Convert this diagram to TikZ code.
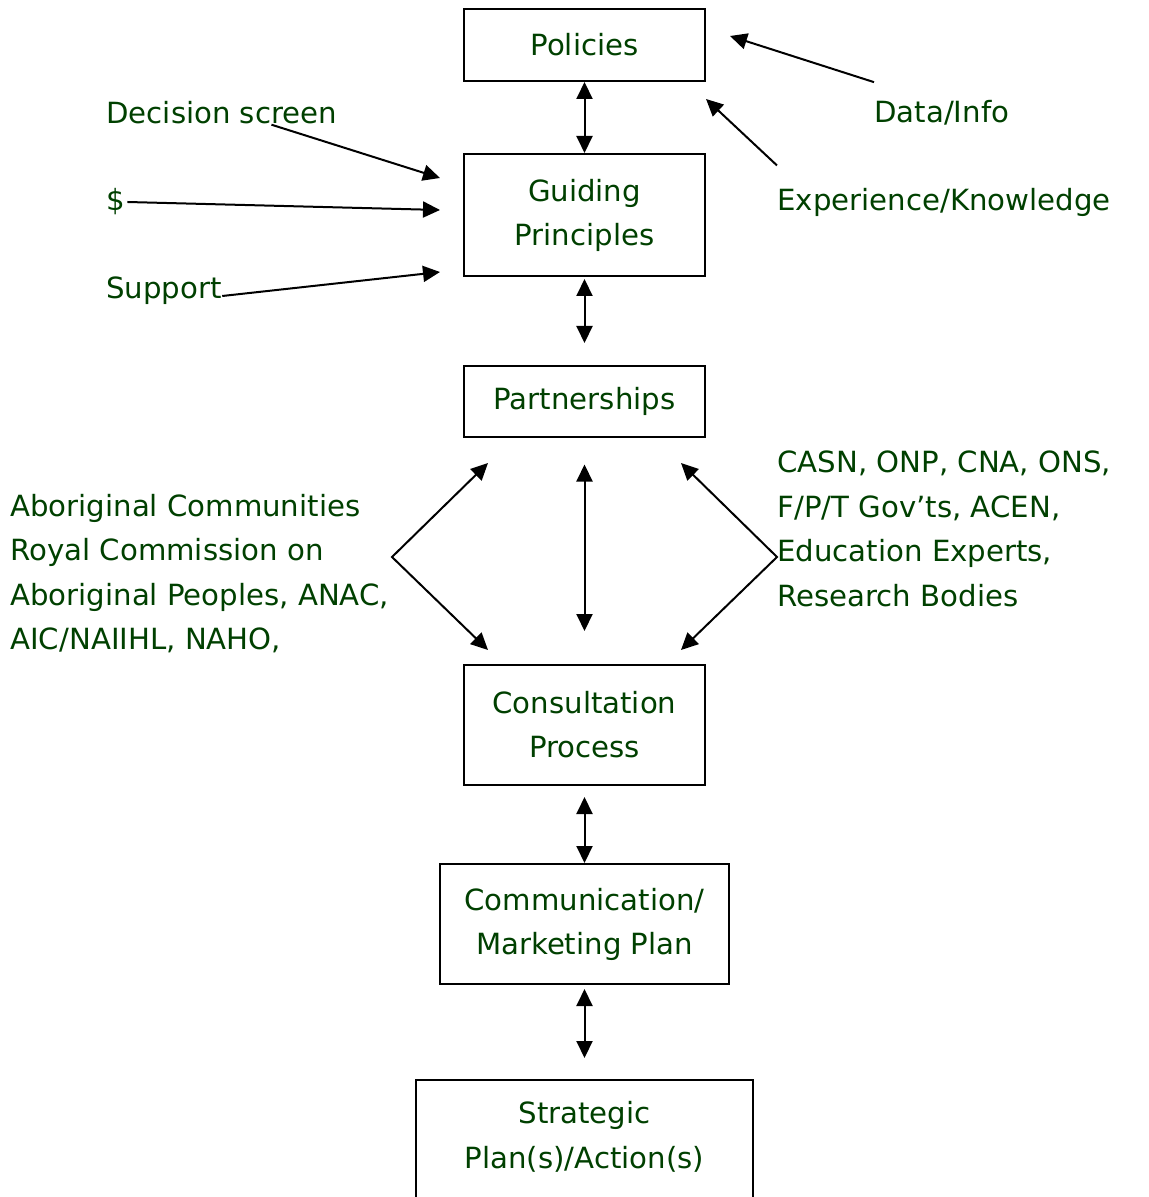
\documentclass[tikz,border=0pt]{standalone}
\usepackage{fontspec}
\setmainfont{DejaVu Sans}
\usetikzlibrary{arrows.meta}
\definecolor{txtgreen}{RGB}{0,64,0}

\begin{document}
\begin{tikzpicture}[x=0.5pt,y=-0.5pt,
		box/.style={draw,line width=1pt,text=txtgreen,align=center,inner sep=0pt,font=\fontsize{14.6}{22}\selectfont},
		lbl/.style={text=txtgreen,align=left,inner sep=0pt,font=\fontsize{14.6}{22.25}\selectfont},
		arr/.style={line width=1pt,-{Triangle[length=8.5pt,width=8pt]}},
		darr/.style={line width=1pt,{Triangle[length=8.5pt,width=8pt]}-{Triangle[length=8.5pt,width=8pt]}}]
					\useasboundingbox (0,0) rectangle (1148,1197);
					% boxes down the middle
					\node (pol) at (584.5,45)[box,minimum width=120.5pt,minimum height=36pt]{Policies};
					\node (gp) at (584.5,215)[box,minimum width=120.5pt,minimum height=61pt]{Guiding\\Principles};
					\node (par) at (584.5,401.5)[box,minimum width=120.5pt,minimum height=35.5pt]{Partnerships};
					\node (con) at (584.5,725)[box,minimum width=120.5pt,minimum height=60pt]{Consultation\\Process};
					\node (com) at (584.5,924)[box,minimum width=144.5pt,minimum height=60pt]{Communication/\\Marketing Plan};
					\node (str) at (584.5,1137)[lbl,align=center]{Strategic\\Plan(s)/Action(s)};
					\draw[line width=1pt] (416,1230) |- (753,1080) -- (753,1230);
					\coordinate (strtop) at (584.5,1080);
					\draw[darr] (pol) -- (gp);
					\draw[darr,shorten <=1pt,shorten >=11pt] (gp) -- (par);
					\draw[darr,shorten <=13.25pt,shorten >=16.5pt] (par) -- (con);
					\draw[darr,shorten <=5.5pt] (con) -- (com);
					\draw[darr,shorten <=2pt,shorten >=11pt] (com) -- (strtop);
					% inputs to the principles
					\node (ds) at (106,113)[lbl,anchor=west]{Decision screen};
					\node (dol) at (106,202)[lbl,anchor=west]{\$};
					\node (sup) at (106,291)[lbl,anchor=west]{Support};
					\node (di) at (874,113)[lbl,anchor=west]{Data/Info};
					\node (ek) at (777,202)[lbl,anchor=west]{Experience/Knowledge};
					\coordinate (dsend) at (440,178);
					\coordinate (dolend) at (440,210);
					\coordinate (supend) at (440,272);
					\coordinate (diend) at (730,36);
					\coordinate (ekend) at (706,99);
					\draw[arr] ([xshift=-33pt]ds.south east) -- (dsend);
					\draw[arr] ([xshift=1pt]dol.east) -- (dolend);
					\draw[arr] ([yshift=-2.5pt]sup.east) -- (supend);
					\draw[arr] ([yshift=9pt]di.north west) -- (diend);
					\draw[arr] ([yshift=11pt]ek.north west) -- (ekend);
					% partners on both sides
					\node (lft) at (10,573.5)[lbl,anchor=west]{Aboriginal Communities\\Royal Commission on\\Aboriginal Peoples, ANAC,\\AIC/NAIIHL, NAHO,};
					\node (rgt) at (777,529)[lbl,anchor=west]{CASN, ONP, CNA, ONS,\\F/P/T Gov’ts, ACEN,\\Education Experts,\\Research Bodies};
					\coordinate (lv) at (392,557);
					\coordinate (lvu) at (488,463);
					\coordinate (lvd) at (488,650);
					\coordinate (rv) at (777,557);
					\coordinate (rvu) at (681,463);
					\coordinate (rvd) at (681,650);
					\draw[darr] (lvu) -- (lv) -- (lvd);
					\draw[darr] (rvu) -- (rv) -- (rvd);
				\end{tikzpicture}
\end{document}
